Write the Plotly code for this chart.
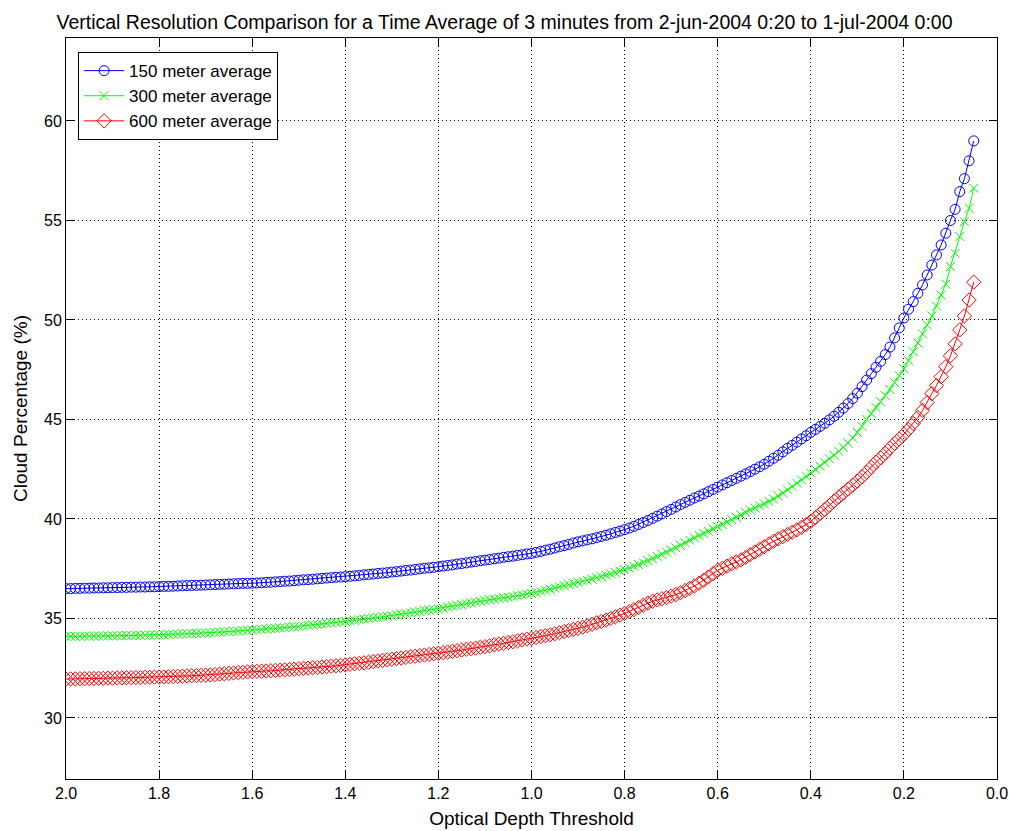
import plotly.graph_objects as go

# Optical depth thresholds 0.05 .. 2.00 in steps of 0.01
threshold = [round(0.05 + 0.01 * i, 2) for i in range(196)]

avg_150m = [
    59.0, 58.0, 57.1, 56.45, 55.56, 55.0,
    54.36, 53.77, 53.27, 52.76, 52.26, 51.76, 51.34, 50.92, 50.54, 50.1,
    49.6, 49.1, 48.64, 48.26, 47.92, 47.62, 47.3, 46.98, 46.65, 46.32,
    46.05, 45.8, 45.57, 45.36, 45.16, 44.98, 44.81, 44.65, 44.5, 44.35,
    44.18, 44.02, 43.86, 43.7, 43.55, 43.37, 43.2, 43.05, 42.9, 42.75,
    42.62, 42.5, 42.38, 42.26, 42.15, 42.04, 41.93, 41.82, 41.71, 41.6,
    41.48, 41.37, 41.26, 41.15, 41.05, 40.94, 40.83, 40.72, 40.6, 40.48,
    40.37, 40.25, 40.14, 40.03, 39.92, 39.82, 39.72, 39.63, 39.54, 39.46,
    39.39, 39.32, 39.25, 39.18, 39.12, 39.06, 39.0, 38.95, 38.9, 38.85,
    38.79, 38.72, 38.66, 38.6, 38.54, 38.48, 38.43, 38.37, 38.32, 38.27,
    38.24, 38.2, 38.17, 38.13, 38.1, 38.07, 38.03, 38.0, 37.96, 37.93,
    37.9, 37.86, 37.83, 37.79, 37.76, 37.73, 37.69, 37.66, 37.63, 37.6,
    37.57, 37.54, 37.52, 37.49, 37.46, 37.43, 37.41, 37.38, 37.35, 37.33,
    37.3, 37.28, 37.26, 37.23, 37.21, 37.19, 37.16, 37.14, 37.12, 37.1,
    37.08, 37.07, 37.05, 37.03, 37.01, 36.99, 36.97, 36.95, 36.94, 36.92,
    36.9, 36.88, 36.87, 36.85, 36.84, 36.82, 36.81, 36.79, 36.78, 36.77,
    36.76, 36.76, 36.75, 36.74, 36.73, 36.72, 36.71, 36.7, 36.69, 36.68,
    36.67, 36.66, 36.66, 36.65, 36.64, 36.63, 36.62, 36.61, 36.61, 36.6,
    36.59, 36.59, 36.58, 36.58, 36.57, 36.57, 36.56, 36.56, 36.55, 36.55,
    36.54, 36.54, 36.53, 36.53, 36.52, 36.52, 36.51, 36.51, 36.5, 36.5,
]

avg_300m = [
    56.62, 55.61, 54.94, 54.19, 53.35, 52.68,
    51.8, 51.25, 50.7, 50.2, 49.75, 49.3, 48.85, 48.4, 47.95, 47.55,
    47.2, 46.85, 46.5, 46.2, 45.9, 45.6, 45.3, 45.0, 44.65, 44.35,
    44.07, 43.82, 43.6, 43.4, 43.2, 43.02, 42.84, 42.66, 42.48, 42.3,
    42.13, 41.96, 41.8, 41.63, 41.46, 41.3, 41.15, 41.0, 40.88, 40.76,
    40.65, 40.55, 40.45, 40.33, 40.2, 40.08, 39.96, 39.84, 39.72, 39.62,
    39.5, 39.38, 39.27, 39.17, 39.05, 38.93, 38.8, 38.67, 38.55, 38.44,
    38.33, 38.22, 38.11, 38.0, 37.9, 37.8, 37.71, 37.62, 37.53, 37.45,
    37.38, 37.31, 37.24, 37.17, 37.1, 37.04, 36.98, 36.92, 36.87, 36.82,
    36.76, 36.7, 36.65, 36.59, 36.53, 36.47, 36.42, 36.36, 36.3, 36.25,
    36.22, 36.18, 36.14, 36.11, 36.07, 36.04, 36.01, 35.97, 35.94, 35.9,
    35.86, 35.82, 35.78, 35.74, 35.69, 35.65, 35.61, 35.57, 35.52, 35.48,
    35.45, 35.42, 35.39, 35.35, 35.32, 35.28, 35.25, 35.21, 35.18, 35.14,
    35.11, 35.08, 35.05, 35.03, 35.0, 34.97, 34.94, 34.91, 34.88, 34.85,
    34.82, 34.8, 34.78, 34.75, 34.73, 34.7, 34.68, 34.65, 34.63, 34.6,
    34.58, 34.56, 34.54, 34.52, 34.5, 34.49, 34.47, 34.45, 34.44, 34.42,
    34.4, 34.39, 34.37, 34.36, 34.34, 34.33, 34.31, 34.3, 34.28, 34.27,
    34.26, 34.25, 34.24, 34.23, 34.22, 34.21, 34.2, 34.19, 34.18, 34.17,
    34.17, 34.16, 34.16, 34.15, 34.15, 34.14, 34.14, 34.13, 34.13, 34.13,
    34.12, 34.12, 34.12, 34.11, 34.11, 34.11, 34.1, 34.1, 34.1, 34.1,
]

avg_600m = [
    51.9, 51.0, 50.2, 49.5, 48.8, 48.2,
    47.65, 47.15, 46.7, 46.3, 45.85, 45.45, 45.1, 44.8, 44.5, 44.25,
    44.02, 43.8, 43.55, 43.3, 43.07, 42.85, 42.6, 42.35, 42.12, 41.9,
    41.7, 41.5, 41.3, 41.1, 40.9, 40.68, 40.47, 40.27, 40.07, 39.88,
    39.72, 39.58, 39.45, 39.33, 39.22, 39.11, 39.0, 38.88, 38.75, 38.6,
    38.47, 38.34, 38.2, 38.07, 37.94, 37.84, 37.74, 37.63, 37.52, 37.42,
    37.25, 37.08, 36.92, 36.77, 36.63, 36.51, 36.4, 36.29, 36.2, 36.12,
    36.05, 35.99, 35.93, 35.86, 35.77, 35.66, 35.55, 35.44, 35.34, 35.25,
    35.16, 35.08, 35.0, 34.92, 34.85, 34.78, 34.7, 34.63, 34.56, 34.5,
    34.45, 34.39, 34.34, 34.28, 34.23, 34.18, 34.13, 34.09, 34.04, 34.0,
    33.96, 33.92, 33.87, 33.83, 33.79, 33.75, 33.71, 33.67, 33.62, 33.58,
    33.55, 33.51, 33.48, 33.45, 33.41, 33.38, 33.35, 33.31, 33.28, 33.25,
    33.22, 33.19, 33.16, 33.13, 33.1, 33.07, 33.04, 33.01, 32.98, 32.95,
    32.92, 32.89, 32.86, 32.83, 32.8, 32.77, 32.74, 32.72, 32.69, 32.66,
    32.64, 32.62, 32.6, 32.58, 32.56, 32.54, 32.52, 32.5, 32.49, 32.47,
    32.45, 32.43, 32.42, 32.4, 32.39, 32.37, 32.36, 32.35, 32.34, 32.33,
    32.31, 32.29, 32.28, 32.26, 32.24, 32.22, 32.2, 32.18, 32.16, 32.15,
    32.14, 32.13, 32.12, 32.11, 32.1, 32.09, 32.08, 32.07, 32.06, 32.05,
    32.05, 32.04, 32.04, 32.03, 32.03, 32.02, 32.02, 32.01, 32.01, 32.0,
    32.0, 31.99, 31.99, 31.98, 31.98, 31.97, 31.97, 31.96, 31.96, 31.95,
]

series_names = ["150 meter average", "300 meter average", "600 meter average"]
x_ticks = [2.0, 1.8, 1.6, 1.4, 1.2, 1.0, 0.8, 0.6, 0.4, 0.2, 0.0]
y_ticks = [30, 35, 40, 45, 50, 55, 60]

FONT = "Liberation Sans, Arial, sans-serif"

fig = go.Figure()
styles = [
    (avg_150m, "rgb(0,0,255)", "circle-open", 10),
    (avg_300m, "rgb(0,255,0)", "x-thin-open", 9),
    (avg_600m, "rgb(255,0,0)", "diamond-open", 11),
]
for name, (vals, col, sym, sz) in zip(series_names, styles):
    fig.add_trace(go.Scatter(
        x=threshold, y=vals, name=name, mode="lines+markers",
        line=dict(color=col, width=1),
        marker=dict(symbol=sym, size=sz, color=col, line=dict(color=col, width=1)),
    ))

axis_common = dict(
    showline=True, linecolor="black", linewidth=1, mirror="ticks",
    ticks="inside", ticklen=8, tickcolor="black", tickwidth=1,
    showgrid=True, gridcolor="black", gridwidth=1, griddash="1px,3px",
    zeroline=False, automargin=False,
    tickfont=dict(family=FONT, size=16, color="black"),
)

fig.update_layout(
    width=1009, height=831,
    paper_bgcolor="white", plot_bgcolor="white",
    margin=dict(l=66, r=12, t=38, b=52),
    title=dict(
        text="Vertical Resolution Comparison for a Time Average of 3 minutes from 2-jun-2004 0:20 to 1-jul-2004 0:00",
        x=0.5, xanchor="center", y=0.973, yanchor="middle",
        font=dict(family=FONT, size=19.5, color="black"),
    ),
    xaxis=dict(
        range=[2.0, 0.0], tickvals=x_ticks, ticktext=[f"{v:.1f}" for v in x_ticks],
        title=dict(text="Optical Depth Threshold", font=dict(family=FONT, size=19, color="black"), standoff=10),
        **axis_common,
    ),
    yaxis=dict(
        range=[26.93, 64.17], tickvals=y_ticks,
        title=dict(text="Cloud Percentage (%)", font=dict(family=FONT, size=19, color="black"), standoff=11),
        **axis_common,
    ),
    legend=dict(
        x=0.013, y=0.981, xanchor="left", yanchor="top",
        bgcolor="white", bordercolor="black", borderwidth=1,
        font=dict(family=FONT, size=17, color="black"),
        tracegroupgap=0, itemwidth=40,
    ),
    showlegend=True,
)

fig.write_html("out.html")
